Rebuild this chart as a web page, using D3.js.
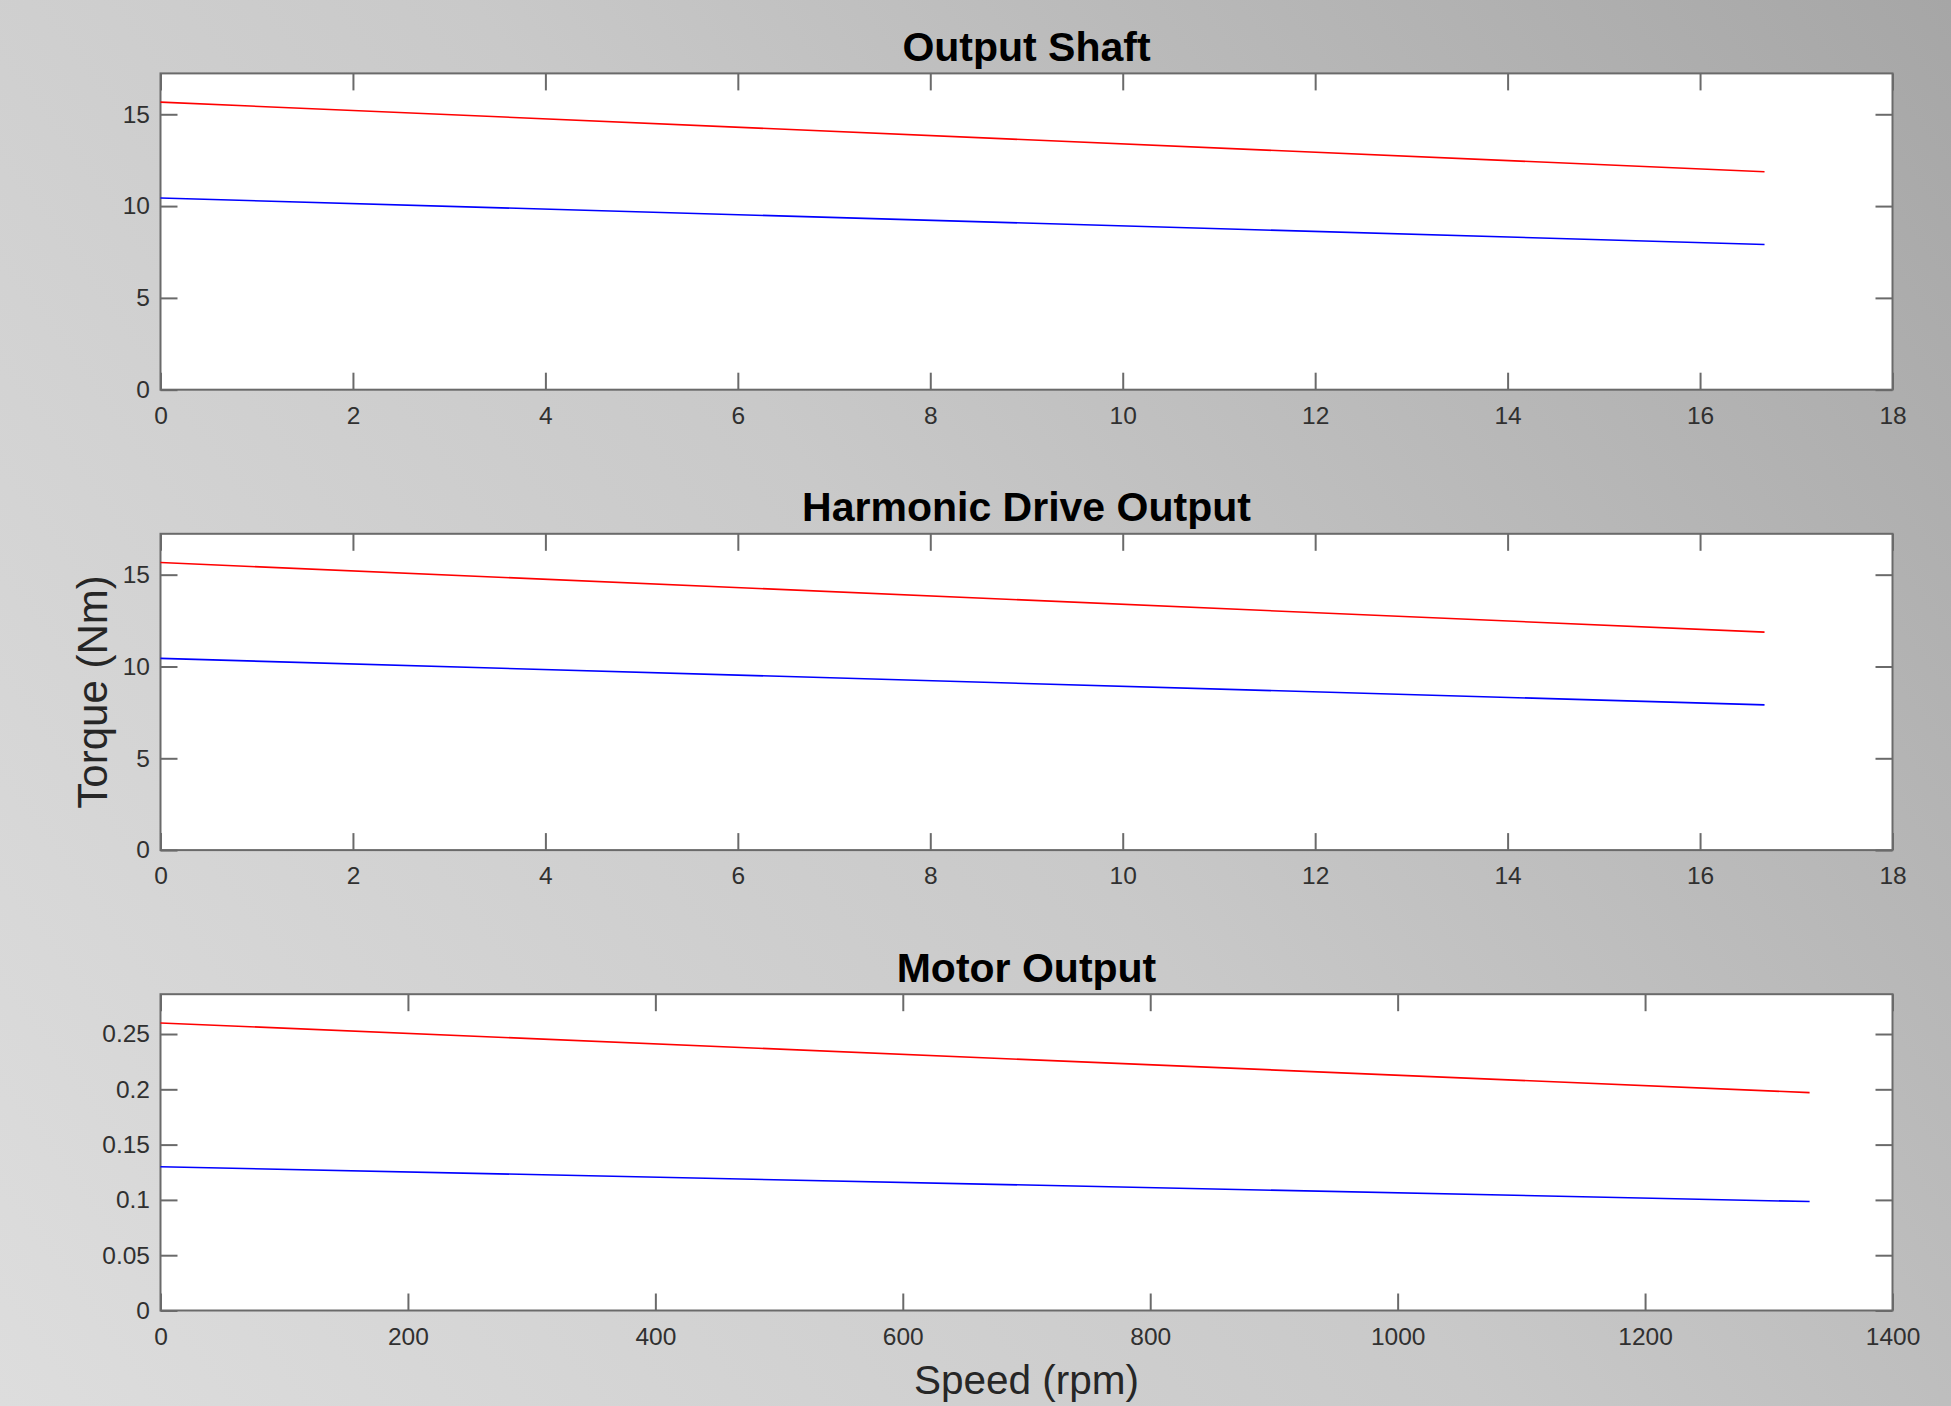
<!DOCTYPE html>
<html>
<head>
<meta charset="utf-8">
<script src="https://cdn.jsdelivr.net/npm/d3@7"></script>
<style>
    body { margin: 0; padding: 0; overflow: hidden; }
    text { font-family: "Liberation Sans", Arial, Helvetica, sans-serif; }
</style>
</head>
<body>
<script>

// == data ==
// output shaft (rpm, Nm)
var shaftSpeed = [0, 16.67];
var shaftTorqueHigh = [15.66, 11.87];
var shaftTorqueLow = [10.44, 7.91];

// harmonic drive output (rpm, Nm)
var driveSpeed = [0, 16.67];
var driveTorqueHigh = [15.66, 11.87];
var driveTorqueLow = [10.44, 7.91];

// motor output (rpm, Nm)
var motorSpeed = [0, 1333];
var motorTorqueHigh = [0.26, 0.197];
var motorTorqueLow = [0.13, 0.0985];

// axis ticks
var gearXTicks = [0, 2, 4, 6, 8, 10, 12, 14, 16, 18];
var gearYTicks = [0, 5, 10, 15];
var motorXTicks = [0, 200, 400, 600, 800, 1000, 1200, 1400];
var motorYTicks = [0, 0.05, 0.1, 0.15, 0.2, 0.25];

var panelTitles = ["Output Shaft", "Harmonic Drive Output", "Motor Output"];

var svgWidth = 1951;
var svgHeight = 1406;

var margin = { left: 160.5, right: 58.5 };
var plotWidth = svgWidth - margin.left - margin.right;
var plotHeight = 316.3;
var plotTops = [73.4, 533.8, 994.2];
var tickLen = 17;

var svg = d3.select("body")
    .append("svg")
    .attr("width", svgWidth)
    .attr("height", svgHeight);

// grey slide background
var grad = svg.append("defs")
    .append("linearGradient")
    .attr("id", "bg")
    .attr("gradientUnits", "userSpaceOnUse")
    .attr("x1", 0).attr("y1", svgHeight)
    .attr("x2", svgWidth).attr("y2", 0);
grad.append("stop").attr("offset", 0).attr("stop-color", "#dddddd");
grad.append("stop").attr("offset", 0.5).attr("stop-color", "#c9c9c9");
grad.append("stop").attr("offset", 1).attr("stop-color", "#a6a6a6");

svg.append("rect")
    .attr("width", svgWidth)
    .attr("height", svgHeight)
    .attr("fill", "url(#bg)");

function drawPanel(i, xs, yHigh, yLow, xTicks, yTicks, xMax) {
    var top = plotTops[i];
    var yMax = d3.max(yHigh) * 1.1;

    var chartGroup = svg.append("g")
        .attr("transform", `translate(${margin.left},${top})`);

    var xLinearScale = d3.scaleLinear()
        .domain([0, xMax])
        .range([0, plotWidth]);

    var yLinearScale = d3.scaleLinear()
        .domain([0, yMax])
        .range([plotHeight, 0]);

    chartGroup.append("rect")
        .attr("width", plotWidth)
        .attr("height", plotHeight)
        .attr("fill", "white");

    var fmt = d3.format("~g");

    // ticks on all four sides, pointing in
    chartGroup.append("g")
        .attr("transform", `translate(0, ${plotHeight})`)
        .call(d3.axisBottom(xLinearScale).tickValues(xTicks).tickFormat(fmt)
            .tickSizeInner(-tickLen).tickSizeOuter(0).tickPadding(17));
    chartGroup.append("g")
        .call(d3.axisTop(xLinearScale).tickValues(xTicks).tickFormat("")
            .tickSizeInner(-tickLen).tickSizeOuter(0));
    chartGroup.append("g")
        .call(d3.axisLeft(yLinearScale).tickValues(yTicks).tickFormat(fmt)
            .tickSizeInner(-tickLen).tickSizeOuter(0).tickPadding(10.5));
    chartGroup.append("g")
        .attr("transform", `translate(${plotWidth}, 0)`)
        .call(d3.axisRight(yLinearScale).tickValues(yTicks).tickFormat("")
            .tickSizeInner(-tickLen).tickSizeOuter(0));

    chartGroup.selectAll(".domain").remove();
    chartGroup.selectAll(".tick line")
        .attr("stroke", "#6a6a6a")
        .attr("stroke-width", 2);
    chartGroup.selectAll(".tick text")
        .attr("font-size", 24.5)
        .attr("font-family", "Liberation Sans, Arial, sans-serif")
        .attr("fill", "#303030");

    // box
    chartGroup.append("rect")
        .attr("width", plotWidth)
        .attr("height", plotHeight)
        .attr("fill", "none")
        .attr("stroke", "#6a6a6a")
        .attr("stroke-width", 2);

    var line = d3.line()
        .x((d, j) => xLinearScale(xs[j]))
        .y(d => yLinearScale(d));

    chartGroup.append("path")
        .datum(yHigh)
        .attr("d", line)
        .attr("fill", "none")
        .attr("stroke", "#ff0000")
        .attr("stroke-width", 1.6);

    chartGroup.append("path")
        .datum(yLow)
        .attr("d", line)
        .attr("fill", "none")
        .attr("stroke", "#0000ff")
        .attr("stroke-width", 1.6);

    // title
    chartGroup.append("text")
        .attr("x", plotWidth / 2)
        .attr("y", -12.5)
        .attr("text-anchor", "middle")
        .attr("font-size", 41)
        .attr("font-weight", "bold")
        .style("fill", "black")
        .text(panelTitles[i]);
}

drawPanel(0, shaftSpeed, shaftTorqueHigh, shaftTorqueLow, gearXTicks, gearYTicks, 18);
drawPanel(1, driveSpeed, driveTorqueHigh, driveTorqueLow, gearXTicks, gearYTicks, 18);
drawPanel(2, motorSpeed, motorTorqueHigh, motorTorqueLow, motorXTicks, motorYTicks, 1400);

//== add axis labels ==
svg.append("text")
    .attr("transform", `translate(106.5, ${plotTops[1] + plotHeight / 2}) rotate(-90)`)
    .attr("text-anchor", "middle")
    .attr("font-size", 42)
    .style("fill", "#262626")
    .text("Torque (Nm)");

svg.append("text")
    .attr("x", margin.left + plotWidth / 2)
    .attr("y", 1394)
    .attr("text-anchor", "middle")
    .attr("font-size", 40.5)
    .style("fill", "#262626")
    .text("Speed (rpm)");

</script>
</body>
</html>
